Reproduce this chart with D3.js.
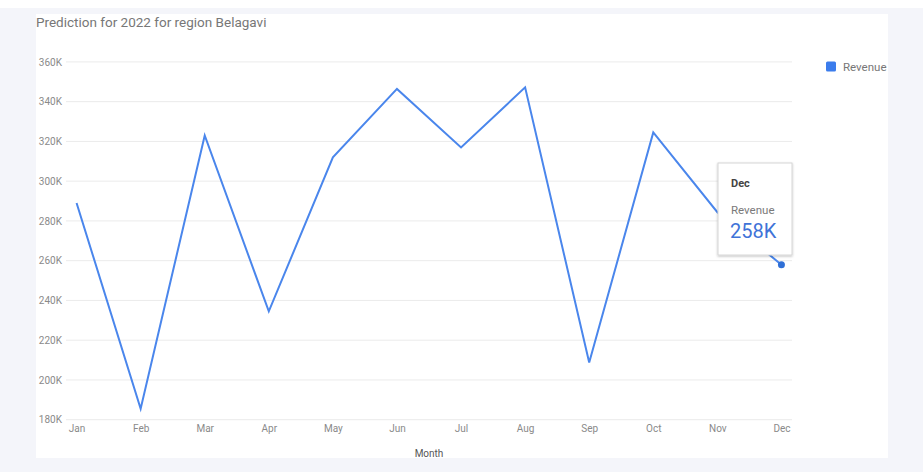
<!DOCTYPE html>
<html>
<head>
<meta charset="utf-8">
<script src="https://cdn.jsdelivr.net/npm/d3@7"></script>
<style>
  html, body { margin: 0; padding: 0; background: #ffffff; }
  svg { display: block; font-family: Roboto, "Noto Sans", Arial, sans-serif; }
</style>
</head>
<body>
<script>
const months = ["Jan","Feb","Mar","Apr","May","Jun","Jul","Aug","Sep","Oct","Nov","Dec"];
const revenue = [289000, 185500, 323000, 234500, 312000, 346400, 317000, 347200, 208800, 324500, 284400, 258000];
const yTicks = [180000, 200000, 220000, 240000, 260000, 280000, 300000, 320000, 340000, 360000];
const seriesName = "Revenue";
const chartTitle = "Prediction for 2022 for region Belagavi";
const xTitle = "Month";
const hoverIndex = 11;

const W = 923, H = 472;
const svg = d3.select("body").append("svg").attr("width", W).attr("height", H);

// backgrounds
svg.append("rect").attr("x", 0).attr("y", 0).attr("width", W).attr("height", H).attr("fill", "#ffffff");
svg.append("rect").attr("x", 0).attr("y", 8).attr("width", W).attr("height", H - 8).attr("fill", "#f4f5fa");
svg.append("rect").attr("x", 36).attr("y", 14).attr("width", 852).attr("height", 444).attr("fill", "#ffffff");

const lineColor = "#4a86ec";

const x = d3.scalePoint().domain(months).range([66, 792]).padding(0.165);
const y = d3.scaleLinear().domain([180000, 360000]).range([419.7, 61.9]);

// title
svg.append("text").attr("x", 36).attr("y", 27).attr("fill", "#777777")
  .attr("font-size", 13.5).text(chartTitle);

// grid
const grid = svg.append("g");
grid.selectAll("line").data(yTicks).join("line")
  .attr("x1", 66).attr("x2", 792)
  .attr("y1", d => y(d)).attr("y2", d => y(d))
  .attr("stroke", "#ebebeb").attr("stroke-width", 1);

// y axis
const yAxis = d3.axisLeft(y).tickValues(yTicks).tickSize(0).tickPadding(0)
  .tickFormat(d => (d / 1000) + "K");
const gy = svg.append("g").attr("transform", "translate(62,0)").call(yAxis);
gy.select(".domain").remove();
gy.selectAll("text").attr("fill", "#8a8a8a").attr("font-size", 10)
  .attr("font-family", "Roboto, 'Noto Sans', Arial, sans-serif");

// x axis
const xAxis = d3.axisBottom(x).tickSize(0).tickPadding(0);
const gx = svg.append("g").attr("transform", "translate(0,425)").call(xAxis);
gx.select(".domain").remove();
gx.selectAll("text").attr("fill", "#8a8a8a").attr("font-size", 10)
  .attr("font-family", "Roboto, 'Noto Sans', Arial, sans-serif");

svg.append("text").attr("x", 429).attr("y", 457).attr("text-anchor", "middle")
  .attr("fill", "#555555").attr("font-size", 10).text(xTitle);

// line
const line = d3.line().x((d, i) => x(months[i])).y(d => y(d));
svg.append("path").datum(revenue).attr("d", line)
  .attr("fill", "none").attr("stroke", lineColor).attr("stroke-width", 2)
  .attr("stroke-linejoin", "miter");

// hover dot
svg.append("circle").attr("cx", x(months[hoverIndex])).attr("cy", y(revenue[hoverIndex]))
  .attr("r", 3.5).attr("fill", "#2f6fd6");

// legend
svg.append("rect").attr("x", 826).attr("y", 61.5).attr("width", 10).attr("height", 10)
  .attr("rx", 1.5).attr("fill", "#3b7cec");
svg.append("text").attr("x", 843).attr("y", 71).attr("fill", "#777777")
  .attr("font-size", 11.5).text(seriesName);

// tooltip
const defs = svg.append("defs");
const f = defs.append("filter").attr("id", "sh").attr("x", "-20%").attr("y", "-20%").attr("width", "140%").attr("height", "140%");
f.append("feDropShadow").attr("dx", 0).attr("dy", 1).attr("stdDeviation", 1.2).attr("flood-color", "#000").attr("flood-opacity", 0.25);
const tt = svg.append("g").attr("transform", "translate(718,163)");
tt.append("rect").attr("width", 74).attr("height", 92).attr("fill", "#ffffff")
  .attr("stroke", "#d6d6d6").attr("stroke-width", 1).attr("filter", "url(#sh)");
tt.append("text").attr("x", 13).attr("y", 24).attr("fill", "#444444")
  .attr("font-size", 11).attr("font-weight", "bold").text(months[hoverIndex]);
tt.append("text").attr("x", 13).attr("y", 51).attr("fill", "#7a7a7a")
  .attr("font-size", 11.5).text(seriesName);
tt.append("text").attr("x", 12).attr("y", 75).attr("fill", "#3f73d8")
  .attr("font-size", 20).text(Math.round(revenue[hoverIndex] / 1000) + "K");
</script>
</body>
</html>
